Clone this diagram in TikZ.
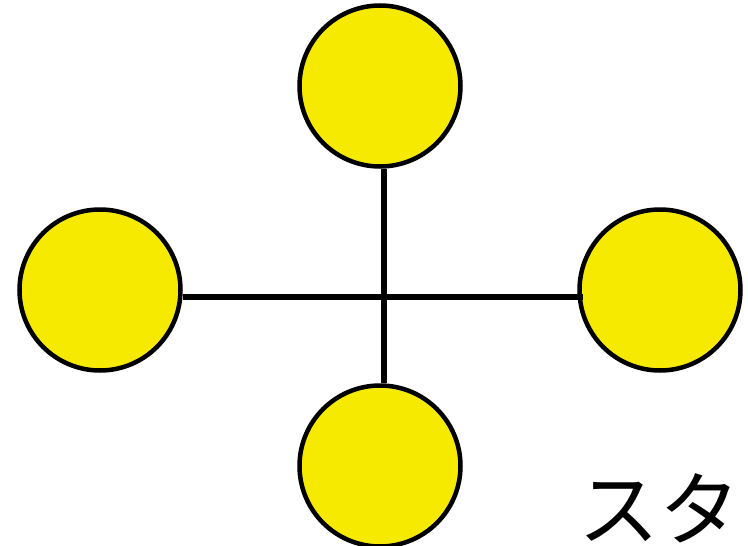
\documentclass[tikz,border=0pt]{standalone}
\usepackage{fontspec}
\newfontfamily\jpfont{Noto Sans CJK JP}
\usepackage{xcolor}
\usepackage{tikz}
\usetikzlibrary{positioning, calc}
\definecolor{discyellow}{RGB}{245,234,0}

\begin{document}
\begin{tikzpicture}[
    x=1pt, y=-1pt,
    disc/.style={circle, draw=black, fill=discyellow, line width=4.5pt, minimum size=161pt, inner sep=0pt},
    spoke/.style={line width=6.5pt, color=black}
]
\useasboundingbox (0,0) rectangle (748,546);

\node[disc] (c_top) at (380,86) {};
\node[disc] (c_left) at (100,290) {};
\node[disc] (c_right) at (660,290) {};
\node[disc] (c_bot) at (380,466) {};
\coordinate (hub) at (384,297);

\draw[spoke] (c_left.east |- hub) -- ($(c_right.west |- hub)+(6,0)$);
\draw[spoke] (hub |- c_top.south) -- (hub |- c_bot.north);

\node[font=\jpfont\fontsize{81}{81}\selectfont, anchor=base west, inner sep=0pt] (label) at (578,539) {スタ};
\end{tikzpicture}
\end{document}
